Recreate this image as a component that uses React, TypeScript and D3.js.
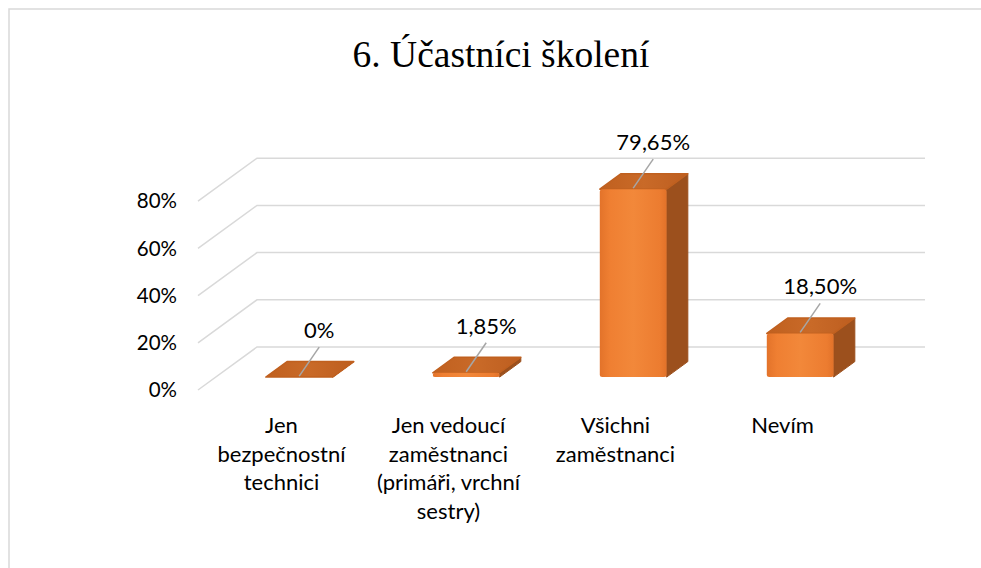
import React from "react";
import * as d3 from "d3";

const categories: string[][] = [
  ["Jen", "bezpečnostní", "technici"],
  ["Jen vedoucí", "zaměstnanci", "(primáři, vrchní", "sestry)"],
  ["Všichni", "zaměstnanci"],
  ["Nevím"],
];
const values: number[] = [0, 1.85, 79.65, 18.5];
const valueLabels: string[] = ["0%", "1,85%", "79,65%", "18,50%"];
const ticks: number[] = [0, 20, 40, 60, 80];
const tickLabels: string[] = ["0%", "20%", "40%", "60%", "80%"];
const title = "6. Účastníci školení";

const W = 981;
const H = 568;
const X0 = 198;
const X1 = 866;
const Y0 = 390;
const DX = 59;
const DY = -43;
const D_FRONT = 0.3;
const D_BACK = 0.66;
const FONT = "Lato, 'Open Sans', sans-serif";

export default function App() {
  const h = d3.scaleLinear().domain([0, 100]).range([0, 236]);
  const xb = d3
    .scaleBand<number>()
    .domain(values.map((_, i) => i))
    .range([X0, X1])
    .padding(0);
  const P = (x: number, v: number, d: number): [number, number] => [
    x + DX * d,
    Y0 - h(v) + DY * d,
  ];
  const pts = (arr: [number, number][]) => arr.map((p) => p.join(",")).join(" ");
  const bw = xb.bandwidth() * 0.4;

  return (
    <div style={{ position: "fixed", left: 0, top: 0, width: W, height: H, background: "#fff" }}>
      <svg width={W} height={H} style={{ display: "block" }}>
        <defs>
          <linearGradient id="front" x1="0" x2="1" y1="0" y2="0">
            <stop offset="0" stopColor="#E3732A" />
            <stop offset="0.15" stopColor="#EF7F32" />
            <stop offset="0.5" stopColor="#F2883A" />
            <stop offset="0.9" stopColor="#EC7C30" />
            <stop offset="1" stopColor="#E27229" />
          </linearGradient>
          <linearGradient id="top" x1="0" x2="1" y1="0" y2="0">
            <stop offset="0" stopColor="#C0601F" />
            <stop offset="0.5" stopColor="#C96A28" />
            <stop offset="1" stopColor="#BD5E20" />
          </linearGradient>
        </defs>
        <rect x={9} y={9} width={990} height={600} fill="#fff" stroke="#d9d9d9" strokeWidth={1.5} />
        <text
          x={501}
          y={67}
          textAnchor="middle"
          fontFamily="'Liberation Serif', 'Times New Roman', serif"
          fontSize={37.5}
          fill="#000"
        >
          {title}
        </text>
        {ticks.map((t, i) => {
          const a = P(X0, t, 0);
          const b = P(X0, t, 1);
          const c = P(X1, t, 1);
          return (
            <g key={t}>
              <polyline
                points={pts([a, b, c])}
                fill="none"
                stroke="#d9d9d9"
                strokeWidth={1.5}
              />
              <text
                x={177}
                y={a[1] + 2}
                textAnchor="end"
                dominantBaseline="middle"
                fontFamily={FONT}
                fontSize={20.5}
                fill="#000"
              >
                {tickLabels[i]}
              </text>
            </g>
          );
        })}
        {values.map((v, i) => {
          const xL = (xb(i) as number) + xb.bandwidth() / 2 - bw / 2;
          const xR = xL + bw;
          const fbl = P(xL, 0, D_FRONT);
          const ftl = P(xL, v, D_FRONT);
          const fbr = P(xR, 0, D_FRONT);
          const ftr = P(xR, v, D_FRONT);
          const btl = P(xL, v, D_BACK);
          const btr = P(xR, v, D_BACK);
          const bbr = P(xR, 0, D_BACK);
          const leadStart: [number, number] = [(ftl[0] + ftr[0]) / 2, ftl[1] - 1];
          const leadEnd: [number, number] = [leadStart[0] + 20, leadStart[1] - 29];
          return (
            <g key={i}>
              <polygon
                points={pts([fbr, ftr, btr, bbr])}
                fill="#9C501D"
                stroke="#9C501D"
                strokeWidth={1}
                strokeLinejoin="round"
              />
              <polygon
                points={pts([ftl, ftr, btr, btl])}
                fill="url(#top)"
                stroke="#C0601F"
                strokeWidth={1.5}
                strokeLinejoin="round"
              />
              {v > 0 && (
                <rect
                  x={ftl[0]}
                  y={ftl[1]}
                  width={bw}
                  height={Math.max(fbl[1] - ftl[1], 1)}
                  rx={2.5}
                  fill="url(#front)"
                />
              )}
              <line
                x1={leadStart[0]}
                y1={leadStart[1]}
                x2={leadEnd[0]}
                y2={leadEnd[1]}
                stroke="#a6a6a6"
                strokeWidth={1.5}
              />
              <text
                x={leadEnd[0]}
                y={leadEnd[1] - 9}
                textAnchor="middle"
                fontFamily={FONT}
                fontSize={22}
                fill="#000"
              >
                {valueLabels[i]}
              </text>
            </g>
          );
        })}
        {categories.map((lines, i) => {
          const cx = (xb(i) as number) + xb.bandwidth() / 2;
          return (
            <text
              key={i}
              x={cx}
              y={433}
              textAnchor="middle"
              fontFamily={FONT}
              fontSize={22}
              fill="#000"
            >
              {lines.map((l, j) => (
                <tspan key={j} x={cx} dy={j === 0 ? 0 : 28.5}>
                  {l}
                </tspan>
              ))}
            </text>
          );
        })}
      </svg>
    </div>
  );
}
